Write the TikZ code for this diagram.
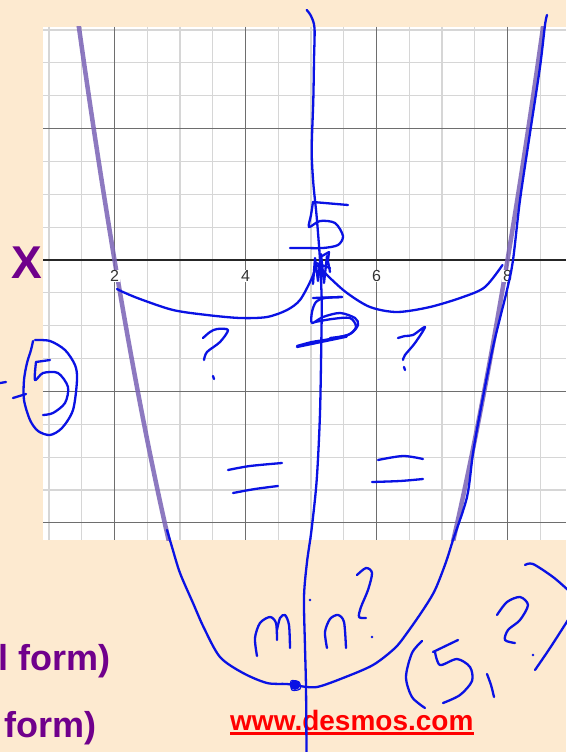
\documentclass[tikz,border=0pt]{standalone}
\usepackage{fontspec}
\setmainfont{Liberation Sans}
\definecolor{peach}{RGB}{253,234,208}
\definecolor{inkc}{RGB}{10,18,228}
\definecolor{parab}{RGB}{122,98,182}
\definecolor{minorg}{RGB}{214,214,214}
\definecolor{majorg}{RGB}{110,110,110}
\definecolor{titlepurple}{RGB}{112,0,140}
\tikzset{
  ink/.style={draw=inkc, line width=2.3pt, line cap=round, line join=round},
  minorline/.style={draw=minorg, line width=1.1pt},
  majorline/.style={draw=majorg, line width=1.1pt},
  axisline/.style={draw=black!85, line width=1.8pt},
  ticklbl/.style={font=\fontsize{16}{16}\selectfont, text=black!80, fill=white, inner sep=0.6pt},
  purpletxt/.style={font=\bfseries\fontsize{36}{36}\selectfont, text=titlepurple, inner sep=0pt},
}
\begin{document}
\begin{tikzpicture}[x=1pt,y=-1pt]
\useasboundingbox (0,0) rectangle (566,752);
\fill[peach] (0,0) rectangle (566,752);
% panel
\fill[white] (43,27) rectangle (566,540);
\begin{scope}
\clip (43,27) rectangle (566,540);
\foreach \k in {-2,...,13} {
  \draw[minorline] ({114.5+\k*32.75},27) -- ({114.5+\k*32.75},540);
}
\foreach \j in {-7,...,8} {
  \draw[minorline] (43,{260+\j*32.85}) -- (566,{260+\j*32.85});
}
\foreach \k in {0,4,8,12} {
  \draw[majorline] ({114.5+\k*32.75},27) -- ({114.5+\k*32.75},540);
}
\foreach \j in {-4,4,8} {
  \draw[majorline] (43,{260+\j*32.85}) -- (566,{260+\j*32.85});
}
\draw[axisline] (43,260) -- (566,260);
% parabola
\draw[parab, line width=4.5pt, opacity=0.85] plot[domain=1.40:2.90, samples=40]
  ({114.5+(\x-2)*65.5}, {260-65.5*(\x-2)*(\x-8)});
\draw[parab, line width=4.5pt, opacity=0.85] plot[domain=7.10:8.60, samples=40]
  ({114.5+(\x-2)*65.5}, {260-65.5*(\x-2)*(\x-8)});
\end{scope}
% tick labels
\node[ticklbl] (l2) at (114.5,276) {2};
\node[ticklbl] (l4) at (245.5,276) {4};
\node[ticklbl] (l6) at (376.5,276) {6};
\node[ticklbl] (l8) at (507.5,276) {8};
% texts
\node[font=\bfseries\fontsize{46}{46}\selectfont, text=titlepurple, anchor=base, inner sep=0pt] (xlab) at (27,278) {X};
\node[purpletxt, anchor=base east] (t1) at (111,670) {l form)};
\node[purpletxt, anchor=base east] (t2) at (97,737) {form)};
\node[font=\bfseries\fontsize{28}{28}\selectfont, text=red, anchor=base west, inner sep=0pt] (url) at (230,730) {www.desmos.com};
\draw[red, line width=2.4pt] ([yshift=-3.5pt]url.base west) -- ([yshift=-3.5pt]url.base east);
% ---------- handwriting ----------
% symmetry line
\draw[ink] plot[smooth] coordinates {(306.7,10) (311,16) (314.5,28) (314,60) (313.3,100) (311.7,150) (313.3,183) (316.7,217) (320,260) (321.7,300) (321.5,330) (320,413) (316.7,480) (311.5,530) (307,562) (304,597) (305,647) (306,687) (306.5,752)};
% right branch
\draw[ink] plot[smooth] coordinates {(547,15) (545,25) (540,67) (530,133) (520,200) (513,260) (507,290) (493,347) (480,413) (473,453) (467,497) (453,540) (446,562) (435,590) (423,610) (407,633) (395,648) (373,665) (343,678) (317,687) (300,686)};
% left branch
\draw[ink] plot[smooth] coordinates {(167,530) (172,547) (180,573) (193,603) (204,628) (220,657) (243,673) (267,683) (287,684) (300,686)};
% vertex dot
\fill[inkc] (295,685) circle (5);
\draw[ink, line width=1.2pt] plot[smooth cycle] coordinates {(291,681) (299,682) (300,689) (292,690)};
% upper arcs
\draw[ink] plot[smooth] coordinates {(117,289) (123,292) (140,299) (173,310) (207,315) (240,318) (267,317) (287,310) (300,300) (311,280) (316,267)};
\draw[ink] plot[smooth] coordinates {(318,266) (330,278) (347,293) (370,307) (397,312) (430,307) (463,297) (485,287) (502.5,265)};
% knot
\draw[ink] plot coordinates {(313,284) (315,258) (318,281) (321,254) (324,283) (327,256) (330,272)};
\draw[ink] (316,263) -- (330,268);
\draw[ink] (322,256) -- (329,252) -- (328,260);
% upper 5
\draw[ink] (313,202) -- (348,205);
\draw[ink] plot[smooth] coordinates {(313,202) (311,215) (309,227) (320,221) (335,223) (343,236) (338,245) (323,248) (305,248) (290,248)};
% lower 5
\draw[ink] plot[smooth] coordinates {(342,297) (325,298) (316,302) (312,312) (312,323) (323,317) (340,313) (355,318) (358,325) (350,334) (330,339) (312,342) (297,346)};
\draw[ink] plot[smooth] coordinates {(315,322) (332,319) (350,318) (356,327) (348,335) (330,338)};
\draw[ink] (313,298) -- (342,297);
\draw[ink] (297,347) -- (346.7,336.7);
% question marks
\draw[ink] plot[smooth] coordinates {(203,338) (210,332) (217,329) (228,330) (220,342) (207,352) (204,360)};
\draw[ink] (213,376) -- (214,379);
\draw[ink] plot[smooth] coordinates {(398,338) (405,336) (413,335) (425,327) (415,343) (405,355) (403,360)};
\draw[ink] (404,367) -- (405,370);
% equals
\draw[ink] plot[smooth] coordinates {(228,470) (250,466) (282,463)};
\draw[ink] plot[smooth] coordinates {(233,493) (255,489) (278,486)};
\draw[ink] plot[smooth] coordinates {(378,460) (403,456) (423,459)};
\draw[ink] plot[smooth] coordinates {(372,482) (400,481) (423,479)};
% circled 5 on the left
\draw[ink] (0,383) -- (6,382);
\draw[ink] (13,398) -- (26,394);
\draw[ink] plot[smooth] coordinates {(35,340) (50,341) (65,350) (75,365) (77,380) (73,410) (62,428) (50,435) (38,431) (30,420) (24,400) (24,380) (27,363) (31,350) (33,341)};
\draw[ink] (36,362) -- (50,360);
\draw[ink] plot[smooth] coordinates {(36,362) (35,380) (43,373) (58,373) (68,387) (65,403) (53,413) (43,415)};
% min?
\draw[ink] plot[smooth] coordinates {(257,656) (255,638) (260,623) (270,617) (276,623) (277,640)};
\draw[ink] plot[smooth] coordinates {(277,630) (280,618) (285,615) (289,625) (290,648)};
\fill[inkc] (310,600) circle (1.4);
\draw[ink] plot[smooth] coordinates {(327,648) (325,632) (330,619) (338,615) (344,622) (346,648)};
\draw[ink] plot[smooth] coordinates {(357,575) (366,568) (372,573) (368,590) (361,607) (359,617) (366,618)};
\fill[inkc] (372,637) circle (1.4);
% (5,?)
\draw[ink] plot[smooth] coordinates {(422,641) (412,653) (406,677) (412,697) (425,708)};
\draw[ink] (433,652) -- (458,640);
\draw[ink] plot[smooth] coordinates {(435,652) (440,665) (457,659) (470,667) (472,681) (460,695) (443,703)};
\draw[ink] plot[smooth] coordinates {(487,674) (491,685) (494,697)};
\draw[ink] plot[smooth] coordinates {(497,615) (507,602) (520,597) (528,605) (520,620) (508,630) (505,640) (515,643)};
\fill[inkc] (533,655) circle (1.4);
\draw[ink] plot[smooth] coordinates {(525,565) (533,564) (553,577) (568,590)};
\draw[ink] plot[smooth] coordinates {(568,620) (550,648) (535,670)};
\end{tikzpicture}
\end{document}
